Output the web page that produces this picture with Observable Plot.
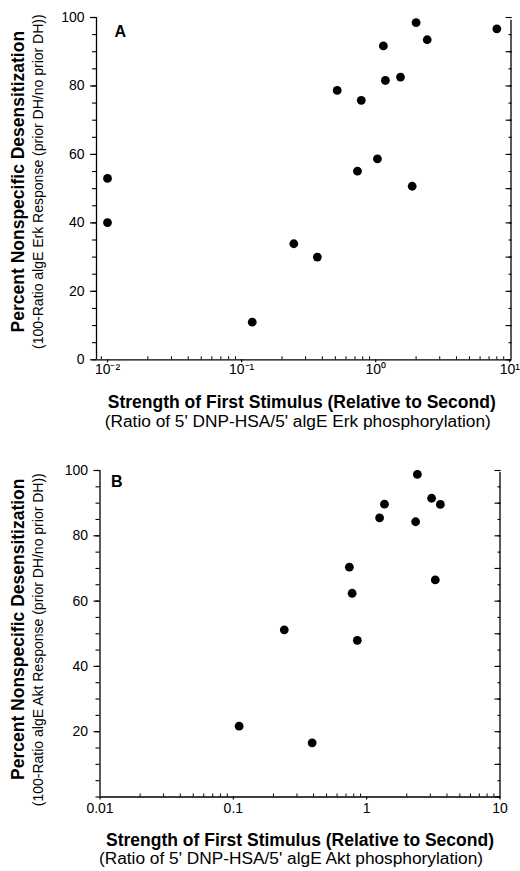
<!DOCTYPE html>
<html>
<head>
<meta charset="utf-8">
<script src="https://cdn.jsdelivr.net/npm/d3@7"></script>
<script src="https://cdn.jsdelivr.net/npm/@observablehq/plot@0.6"></script>
<style>
  html, body { margin: 0; padding: 0; background: #fff; }
  #chart { width: 520px; }
  #chart svg { display: block; }
</style>
</head>
<body>
<div id="chart"></div>
<script>
// ---- Panel A: Erk ----
const erkX = [0.01, 0.01, 0.12, 0.245, 0.367, 0.516, 0.78, 0.731, 1.03, 1.14, 1.18, 1.53, 1.87, 2.0, 2.42, 8.0];
const erkY = [53.0, 40.1, 11.0, 33.9, 30.0, 78.7, 75.8, 55.1, 58.7, 91.7, 81.6, 82.6, 50.7, 98.5, 93.5, 96.7];

// ---- Panel B: Akt ----
const aktX = [2.40, 3.07, 3.57, 1.36, 1.25, 2.33, 0.742, 3.27, 0.778, 0.241, 0.851, 0.1105, 0.39];
const aktY = [98.8, 91.5, 89.6, 89.7, 85.5, 84.3, 70.4, 66.5, 62.4, 51.2, 48.0, 21.7, 16.6];

// ---- Ticks and labels ----
const xTicksA = [0.01, 0.1, 1, 10];
const xTickLabelsA = ["10\u207B\u00B2", "10\u207B\u00B9", "10\u2070", "10\u00B9"];
const xTicksB = [0.01, 0.1, 1, 10];
const xTickLabelsB = ["0.01", "0.1", "1", "10"];
const yTicksA = [0, 20, 40, 60, 80, 100];
const yTicksB = [20, 40, 60, 80, 100];
const panelLetters = ["A", "B"];
const yTitle = "Percent Nonspecific Desensitization";
const ySubA = "(100-Ratio algE Erk Response (prior DH/no prior DH))";
const ySubB = "(100-Ratio algE Akt Response (prior DH/no prior DH))";
const xTitle = "Strength of First Stimulus (Relative to Second)";
const xSubA = "(Ratio of 5' DNP-HSA/5' algE Erk phosphorylation)";
const xSubB = "(Ratio of 5' DNP-HSA/5' algE Akt phosphorylation)";

const FONT = "'Liberation Sans', Arial, Helvetica, sans-serif";

function panel(o) {
  const data = o.xs.map((x, i) => ({x, y: o.ys[i]}));
  const minor = [];
  for (let e = -3; e <= 1; e++) for (let m = 2; m <= 9; m++) {
    const v = m * Math.pow(10, e);
    if (v > o.xDomain[0] && v < o.xDomain[1]) minor.push(v);
  }
  const y5 = d3.range(0, 101, 5);
  const y10 = d3.range(0, 101, 10);
  const ax = 1.3;
  const labelOf = (d) => {
    const k = o.xTicks.findIndex((t) => Math.abs(Math.log10(t) - Math.log10(d)) < 1e-6);
    return k >= 0 ? o.xTickLabels[k] : "";
  };
  return Plot.plot({
    width: 520,
    height: o.height,
    marginLeft: o.ml, marginRight: o.mr, marginTop: o.mt, marginBottom: o.mb,
    style: {fontFamily: FONT, fontSize: "14px", color: "#000", background: "#fff", overflow: "visible"},
    x: {type: "log", domain: o.xDomain},
    y: {domain: [0, 100]},
    marks: [
      // left axis
      Plot.ruleX([o.xDomain[0]], {y1: 0, y2: 100, strokeWidth: ax}),
      Plot.axisY(y5, {anchor: "left", tickSize: 4, tickFormat: () => "", strokeWidth: 1.1, label: null}),
      Plot.axisY(o.yTicks, {anchor: "left", tickSize: 6, tickPadding: 6, fontSize: 14, strokeWidth: 1.2, label: null}),
      // right axis
      Plot.ruleX([o.xDomain[1]], {y1: 0, y2: o.rightTop, strokeWidth: ax}),
      Plot.axisY(y5, {anchor: "right", tickSize: -3, tickFormat: () => "", strokeWidth: 1.1, label: null}),
      Plot.axisY(y10, {anchor: "right", tickSize: -6, tickFormat: () => "", strokeWidth: 1.1, label: null}),
      // bottom axis
      Plot.ruleY([0], {strokeWidth: ax}),
      Plot.axisX(minor, {anchor: "bottom", tickSize: -3, tickFormat: () => "", strokeWidth: 1, label: null}),
      Plot.axisX(o.xTicks, {anchor: "bottom", tickSize: 3, tickPadding: o.xPad, tickFormat: labelOf, fontSize: 14, strokeWidth: 1.2, label: null}),
      // points
      Plot.dot(data, {x: "x", y: "y", r: 4.4, fill: "#000", stroke: null}),
      // panel letter
      Plot.text([o.letter], {frameAnchor: "top-left", dx: o.letterDx, dy: o.letterDy, textAnchor: "start", lineAnchor: "bottom", fontWeight: "bold", fontSize: 16}),
      // y titles
      Plot.text([yTitle], {frameAnchor: "left", rotate: -90, textAnchor: "middle", lineAnchor: "bottom", dx: o.yTitleDx, dy: o.yTitleDy, fontWeight: "bold", fontSize: 17.5}),
      Plot.text([o.ySub], {frameAnchor: "left", rotate: -90, textAnchor: "middle", lineAnchor: "bottom", dx: o.ySubDx, dy: o.ySubDy, fontSize: 14}),
      // x titles
      Plot.text([xTitle], {frameAnchor: "bottom", textAnchor: "middle", lineAnchor: "bottom", dx: o.xTitleDx, dy: o.xTitleDy, fontWeight: "bold", fontSize: 17.5}),
      Plot.text([o.xSub], {frameAnchor: "bottom", textAnchor: "middle", lineAnchor: "bottom", dx: o.xSubDx, dy: o.xSubDy, fontSize: 17.3})
    ]
  });
}

const chartA = panel({
  xs: erkX, ys: erkY, letter: panelLetters[0],
  height: 435, ml: 96, mr: 9.5, mt: 17, mb: 75.7,
  xDomain: [0.00828, 10.2], rightTop: 99.2,
  xTicks: xTicksA, xTickLabels: xTickLabelsA, xPad: 1, yTicks: yTicksA,
  letterDx: 18, letterDy: 19,
  yTitleDx: -72.5, yTitleDy: -7, ySub: ySubA, ySubDx: -54, ySubDy: -7,
  xTitleDx: -2, xTitleDy: 47.7, xSub: xSubA, xSubDx: -6, xSubDy: 67
});

const chartB = panel({
  xs: aktX, ys: aktY, letter: panelLetters[1],
  height: 436, ml: 99.5, mr: 20.5, mt: 35, mb: 74.5,
  xDomain: [0.01, 10], rightTop: 99.4,
  xTicks: xTicksB, xTickLabels: xTickLabelsB, xPad: 3, yTicks: yTicksB,
  letterDx: 11, letterDy: 16.7,
  yTitleDx: -76, yTitleDy: -4.5, ySub: ySubB, ySubDx: -57.5, ySubDy: 6,
  xTitleDx: 0, xTitleDy: 48.5, xSub: xSubB, xSubDx: -9, xSubDy: 66.5
});

const root = document.getElementById("chart");
root.appendChild(chartA);
root.appendChild(chartB);
</script>
</body>
</html>
